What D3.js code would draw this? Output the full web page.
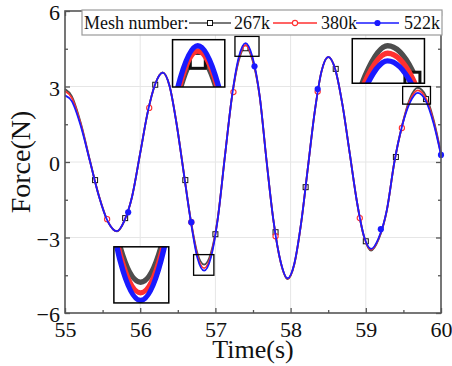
<!DOCTYPE html>
<html><head><meta charset="utf-8">
<script src="https://cdn.jsdelivr.net/npm/d3@7"></script>
<style>body{margin:0;background:#fff}</style>
</head><body><svg id="c" width="452" height="366"></svg>
<script>
// ---------------- data ----------------
const times = [55.00,55.09,55.21,55.33,55.45,55.57,55.69,55.79,55.89,56.00,56.10,56.20,56.30,56.39,56.48,56.575,56.67,56.76,56.85,56.94,57.03,57.125,57.22,57.31,57.40,57.49,57.59,57.68,57.77,57.87,57.96,58.05,58.14,58.23,58.32,58.41,58.50,58.595,58.69,58.785,58.88,58.975,59.07,59.17,59.28,59.38,59.48,59.59,59.69,59.80,59.90,60.00];
const force267 = [2.90,2.62,1.55,0.08,-1.33,-2.36,-2.76,-2.34,-1.40,0.35,1.97,3.10,3.56,3.03,1.60,-0.33,-2.26,-3.62,-4.08,-3.62,-2.26,0.19,2.58,4.02,4.58,4.08,2.58,0.06,-2.28,-4.00,-4.65,-4.06,-2.44,-0.22,1.97,3.58,4.17,3.67,2.27,0.37,-1.55,-2.96,-3.52,-3.08,-1.92,0.00,1.42,2.55,2.95,2.62,1.70,0.35];
const force380 = [2.82,2.55,1.50,0.06,-1.34,-2.37,-2.75,-2.33,-1.40,0.35,1.98,3.10,3.55,3.02,1.59,-0.34,-2.28,-3.72,-4.22,-3.72,-2.28,0.19,2.59,4.08,4.65,4.14,2.59,0.05,-2.29,-4.00,-4.63,-4.04,-2.43,-0.22,1.98,3.59,4.18,3.67,2.27,0.37,-1.54,-2.95,-3.48,-3.05,-1.91,0.00,1.41,2.47,2.85,2.52,1.62,0.30];
const force522 = [2.65,2.42,1.43,0.05,-1.35,-2.37,-2.75,-2.33,-1.40,0.35,1.98,3.10,3.55,3.02,1.58,-0.35,-2.30,-3.80,-4.32,-3.80,-2.30,0.185,2.60,4.15,4.72,4.20,2.60,0.05,-2.29,-3.99,-4.62,-4.03,-2.42,-0.22,1.98,3.59,4.18,3.67,2.27,0.37,-1.54,-2.94,-3.45,-3.03,-1.90,0.00,1.40,2.38,2.75,2.42,1.55,0.28];

const mark267T = [55.4,55.8,56.2,56.6,57.0,57.4,57.8,58.2,58.6,59.0,59.4,59.8];
const mark267F = [-0.72,-2.23,3.07,-0.72,-2.87,4.52,-2.79,-1.0,3.7,-3.15,0.2,2.5];
const mark380T = [55.56,56.12,56.68,57.24,57.80,58.36,58.92,59.48];
const mark380F = [-2.27,2.15,-2.39,2.78,-2.95,2.8,-2.23,1.35];
const mark522T = [55.84,56.68,57.52,58.36,59.20,60.00];
const mark522F = [-2.0,-2.39,3.8,2.9,-2.67,0.28];

const seriesNames = ["267k","380k","522k"];
const legendTitle = "Mesh number:";
const xTicks = [55,56,57,58,59,60];
const xMinor = [55.5,56.5,57.5,58.5,59.5];
const yTicks = [-6,-3,0,3,6];
const yMinor = [-4.5,-1.5,1.5,4.5];
const xTitle = "Time(s)";
const yTitle = "Force(N)";

// zoom boxes (data units): source box [t0,t1,f0,f1], inset box, anchor src->dst
const zoomSrc = [[57.26,57.58,4.99,4.20],[59.49,59.86,3.0,2.30],[56.71,56.98,-3.68,-4.50]];
const zoomDst = [[56.43,57.125,4.86,2.98],[58.82,59.78,4.90,3.13],[55.65,56.38,-3.37,-5.60]];
const zoomAnchorSrc = [[57.40,4.72],[59.69,2.95],[56.85,-4.32]];
const zoomAnchorDst = [[56.766,4.62],[59.29,4.62],[56.005,-5.50]];

// ---------------- style ----------------
const FONT = "'Liberation Serif','Times New Roman',serif";
const style = {
  colors: ["#4d4d4d","#ff3030","#1a1aff"],
  lineW: 1.8
};

const svg = d3.select("#c");
const x = d3.scaleLinear([55,60],[65,441]);
const y = d3.scaleLinear([-6,6],[313,11]);

// grid
const grid = svg.append("g");
grid.selectAll("line.gx").data(xTicks.slice(1,-1)).join("line")
  .attr("x1",d=>x(d)).attr("x2",d=>x(d)).attr("y1",y(-6)).attr("y2",y(6))
  .attr("stroke","#e6e6e6").attr("stroke-width",1);
grid.selectAll("line.gy").data(yTicks.slice(1,-1)).join("line")
  .attr("y1",d=>y(d)).attr("y2",d=>y(d)).attr("x1",x(55)).attr("x2",x(60))
  .attr("stroke","#e6e6e6").attr("stroke-width",1);

// series drawing
const series = [force267, force380, force522].map(arr => times.map((t,i)=>[t,arr[i]]));
const marks = [
  mark267T.map((t,i)=>[t,mark267F[i]]),
  mark380T.map((t,i)=>[t,mark380F[i]]),
  mark522T.map((t,i)=>[t,mark522F[i]])
];
const line = d3.line().x(d=>x(d[0])).y(d=>y(d[1])).curve(d3.curveMonotoneX);

function drawMarker(g, kind, cx, cy){
  if(kind===0){
    g.append("rect").attr("x",cx-2.5).attr("y",cy-2.5).attr("width",5).attr("height",5)
      .attr("fill","#fff").attr("stroke","#111").attr("stroke-width",1);
  } else if(kind===1){
    g.append("circle").attr("cx",cx).attr("cy",cy).attr("r",2.6)
      .attr("fill","#fff").attr("stroke",style.colors[1]).attr("stroke-width",1.1);
  } else {
    g.append("circle").attr("cx",cx).attr("cy",cy).attr("r",3.1)
      .attr("fill",style.colors[2]).attr("stroke","none");
  }
}
function drawAll(g){
  series.forEach((s,i)=>{
    g.append("path").datum(s).attr("d",line).attr("fill","none")
      .attr("stroke",style.colors[i]).attr("stroke-width",style.lineW);
    marks[i].forEach(m=>drawMarker(g,i,x(m[0]),y(m[1])));
  });
}
drawAll(svg.append("g"));

// zoom indicator boxes & insets
const defs = svg.append("defs");
zoomSrc.forEach((b,k)=>{
  svg.append("rect").attr("x",x(b[0])).attr("y",y(b[2]))
    .attr("width",x(b[1])-x(b[0])).attr("height",y(b[3])-y(b[2]))
    .attr("fill","none").attr("stroke","#000").attr("stroke-width",1.3);
  const d = zoomDst[k];
  const bx=x(d[0]), by=y(d[2]), bw=x(d[1])-x(d[0]), bh=y(d[3])-y(d[2]);
  defs.append("clipPath").attr("id","clip"+k).append("rect")
    .attr("x",bx).attr("y",by).attr("width",bw).attr("height",bh);
  svg.append("rect").attr("x",bx).attr("y",by).attr("width",bw).attr("height",bh).attr("fill","#fff");
  const outer = svg.append("g").attr("clip-path",`url(#clip${k})`);
  const sa = zoomAnchorSrc[k], da = zoomAnchorDst[k];
  const inner = outer.append("g")
    .attr("transform",`translate(${x(da[0])},${y(da[1])}) scale(3) translate(${-x(sa[0])},${-y(sa[1])})`);
  drawAll(inner);
  svg.append("rect").attr("x",bx).attr("y",by).attr("width",bw).attr("height",bh)
    .attr("fill","none").attr("stroke","#000").attr("stroke-width",1.5);
});

// axes
const axCol = "#555";
function styleAxis(g){
  g.select(".domain").remove();
  g.selectAll("line").attr("stroke",axCol).attr("stroke-width",1.3);
  g.selectAll("text").attr("font-family",FONT).attr("font-size",22).attr("fill","#111");
}
svg.append("g").attr("transform",`translate(0,${y(-6)})`)
  .call(d3.axisBottom(x).tickValues(xTicks).tickFormat(d3.format("d")).tickSizeInner(-5).tickSizeOuter(0).tickPadding(8))
  .call(styleAxis);
svg.append("g").attr("transform",`translate(0,${y(-6)})`)
  .call(d3.axisBottom(x).tickValues(xMinor).tickFormat("").tickSizeInner(-3).tickSizeOuter(0))
  .call(styleAxis);
svg.append("g").attr("transform",`translate(${x(55)},0)`)
  .call(d3.axisLeft(y).tickValues(yTicks).tickFormat(d3.format("d")).tickSizeInner(-5).tickSizeOuter(0).tickPadding(5))
  .call(styleAxis).selectAll("text").attr("dy","0.4em");
svg.append("g").attr("transform",`translate(${x(55)},0)`)
  .call(d3.axisLeft(y).tickValues(yMinor).tickFormat("").tickSizeInner(-3).tickSizeOuter(0))
  .call(styleAxis);
svg.append("g").attr("transform",`translate(${x(60)},0)`)
  .call(d3.axisRight(y).tickValues(yTicks).tickFormat("").tickSizeInner(-5).tickSizeOuter(0))
  .call(styleAxis);
svg.append("g").attr("transform",`translate(${x(60)},0)`)
  .call(d3.axisRight(y).tickValues(yMinor).tickFormat("").tickSizeInner(-3).tickSizeOuter(0))
  .call(styleAxis);
svg.append("g").attr("transform",`translate(0,${y(6)})`)
  .call(d3.axisTop(x).tickValues(xTicks).tickFormat("").tickSizeInner(-5).tickSizeOuter(0))
  .call(styleAxis);

// frame
svg.append("rect").attr("x",x(55)).attr("y",y(6)).attr("width",x(60)-x(55)).attr("height",y(-6)-y(6))
  .attr("fill","none").attr("stroke",axCol).attr("stroke-width",1.6);

// titles
svg.append("text").attr("x",(x(55)+x(60))/2).attr("y",358).attr("text-anchor","middle")
  .attr("font-family",FONT).attr("font-size",26).attr("fill","#111").text(xTitle);
svg.append("text").attr("transform",`translate(30,${y(0)}) rotate(-90)`).attr("text-anchor","middle")
  .attr("font-family",FONT).attr("font-size",28).attr("fill","#111").text(yTitle);

// legend
const lg = svg.append("g");
lg.append("rect").attr("x",82).attr("y",10).attr("width",360).attr("height",25)
  .attr("fill","#fff").attr("stroke","#9a9a9a").attr("stroke-width",1.2);
lg.append("text").attr("x",84).attr("y",29).attr("font-family",FONT).attr("font-size",18).attr("fill","#111").text(legendTitle);
const legItems = [[189,231,234],[273,317,321],[356,399,404]];
seriesNames.forEach((nm,i)=>{
  const [l0,l1,tx] = legItems[i];
  lg.append("line").attr("x1",l0).attr("x2",l1).attr("y1",23).attr("y2",23)
    .attr("stroke",style.colors[i]).attr("stroke-width",1.3);
  drawMarker(lg,i,(l0+l1)/2,23);
  lg.append("text").attr("x",tx).attr("y",29).attr("font-family",FONT).attr("font-size",18).attr("fill","#111").text(nm);
});
</script></body></html>
